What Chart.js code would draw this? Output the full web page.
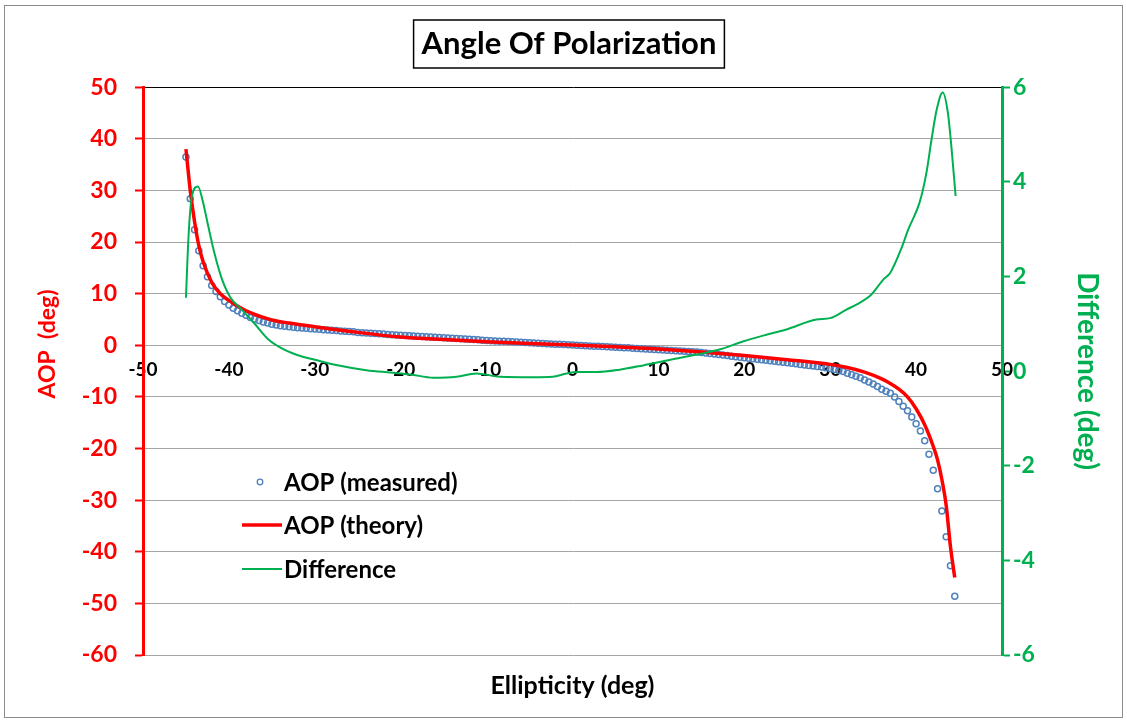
<!DOCTYPE html>
<html>
<head>
<meta charset="utf-8">
<title>Angle Of Polarization</title>
<script src="https://cdn.jsdelivr.net/npm/chart.js@4.4.1/dist/chart.umd.min.js"></script>
<style>
   html, body { margin: 0; padding: 0; background: #fff; }
   #wrap { position: absolute; left: 0; top: 0; width: 1127px; height: 722px; }
</style>
</head>
<body>
<div id="wrap"><canvas id="chart__aop" width="1127" height="722"></canvas></div>
<script>
// DATA
const measuredX = [
   -45, -44.5, -44, -43.5, -43, -42.5, -42, -41.5, -41, -40.5,
   -40, -39.5, -39, -38.5, -38, -37.5, -37, -36.5, -36, -35.5,
   -35, -34.5, -34, -33.5, -33, -32.5, -32, -31.5, -31, -30.5,
   -30, -29.5, -29, -28.5, -28, -27.5, -27, -26.5, -26, -25.5,
   -25, -24.5, -24, -23.5, -23, -22.5, -22, -21.5, -21, -20.5,
   -20, -19.5, -19, -18.5, -18, -17.5, -17, -16.5, -16, -15.5,
   -15, -14.5, -14, -13.5, -13, -12.5, -12, -11.5, -11, -10.5,
   -10, -9.5, -9, -8.5, -8, -7.5, -7, -6.5, -6, -5.5,
   -5, -4.5, -4, -3.5, -3, -2.5, -2, -1.5, -1, -0.5,
   0, 0.5, 1, 1.5, 2, 2.5, 3, 3.5, 4, 4.5,
   5, 5.5, 6, 6.5, 7, 7.5, 8, 8.5, 9, 9.5,
   10, 10.5, 11, 11.5, 12, 12.5, 13, 13.5, 14, 14.5,
   15, 15.5, 16, 16.5, 17, 17.5, 18, 18.5, 19, 19.5,
   20, 20.5, 21, 21.5, 22, 22.5, 23, 23.5, 24, 24.5,
   25, 25.5, 26, 26.5, 27, 27.5, 28, 28.5, 29, 29.5,
   30, 30.5, 31, 31.5, 32, 32.5, 33, 33.5, 34, 34.5,
   35, 35.5, 36, 36.5, 37, 37.5, 38, 38.5, 39, 39.5,
   40, 40.5, 41, 41.5, 42, 42.5, 43, 43.5, 44, 44.5
];
const measuredY = [
   36.5, 28.4, 22.4, 18.3, 15.4, 13.3, 11.6, 10.4, 9.4, 8.5,
   7.8, 7.2, 6.7, 6.2, 5.8, 5.4, 5.1, 4.8, 4.5, 4.3,
   4.1, 3.95, 3.8, 3.7, 3.6, 3.5, 3.4, 3.35, 3.3, 3.2,
   3.15, 3.1, 3.0, 2.95, 2.9, 2.85, 2.75, 2.7, 2.65, 2.6,
   2.5, 2.45, 2.4, 2.35, 2.3, 2.25, 2.2, 2.1, 2.05, 2.0,
   1.95, 1.9, 1.85, 1.8, 1.75, 1.7, 1.65, 1.6, 1.55, 1.5,
   1.45, 1.4, 1.35, 1.3, 1.25, 1.2, 1.15, 1.1, 1.05, 1.0,
   0.95, 0.9, 0.85, 0.8, 0.8, 0.75, 0.7, 0.65, 0.6, 0.55,
   0.5, 0.45, 0.4, 0.35, 0.3, 0.25, 0.2, 0.2, 0.15, 0.1,
   0.05, 0.0, -0.05, -0.1, -0.15, -0.2, -0.2, -0.25, -0.3, -0.35,
   -0.4, -0.45, -0.5, -0.5, -0.55, -0.6, -0.65, -0.7, -0.75, -0.8,
   -0.85, -0.9, -0.95, -1.0, -1.05, -1.1, -1.15, -1.2, -1.25, -1.3,
   -1.4, -1.5, -1.6, -1.7, -1.8, -1.9, -2.0, -2.1, -2.2, -2.3,
   -2.4, -2.5, -2.6, -2.7, -2.8, -2.9, -3.0, -3.1, -3.2, -3.3,
   -3.4, -3.5, -3.6, -3.7, -3.8, -3.9, -4.0, -4.1, -4.2, -4.35,
   -4.5, -4.7, -4.9, -5.1, -5.4, -5.7, -6.0, -6.3, -6.7, -7.1,
   -7.5, -8.0, -8.5, -8.9, -9.3, -10.0, -10.9, -11.8, -12.7, -13.9,
   -15.2, -16.6, -18.5, -21.1, -24.2, -27.8, -32.1, -37.1, -42.7, -48.6
];

const theoryX = [
   -45, -44.5, -44, -43.5, -43, -42, -41, -40, -39, -38, -37, -36, -35,
   -33, -30, -25, -20, -15, -10, -5, 0, 5, 10, 15, 20, 25, 30,
   32, 34, 36, 37, 38, 39, 40, 41, 42, 42.5, 43, 43.5, 44, 44.5
];
const theoryY = [
   38, 30, 24, 19.3, 16.2, 12.2, 10.0, 8.7, 7.6, 6.7, 6.0, 5.4, 4.9,
   4.3, 3.6, 2.5, 1.6, 1.1, 0.7, 0.35, 0.05, -0.3, -0.7, -1.3, -2.0, -2.8, -3.7,
   -4.3, -5.2, -6.5, -7.4, -8.5, -10.0, -12.3, -15.4, -19.6, -22.2, -26.0, -31.0, -39.0, -45.0
];

const diffX = [
   -45, -44.7, -44.3, -43.6, -43, -42.4, -41.6, -40.8, -39.8, -38.5,
   -37, -35.4, -33.5, -31.5, -30, -27.8, -24, -21.2, -18.9, -16.2,
   -13.5, -11.2, -8.4, -4.6, -2.3, -0.7, 0.5, 2.8, 5.5, 8.2,
   11.4, 14.5, 17.2, 19.9, 22.2, 24.9, 28.4, 30, 31.9, 33.1,
   34.8, 36.2, 37, 38.3, 39.1, 40.4, 41.2, 41.8, 42.4, 43.1,
   43.7, 44.1, 44.6
];
const diffY = [
   1.55, 2.85, 3.7, 3.9, 3.56, 3.06, 2.43, 1.94, 1.55, 1.3,
   1.0, 0.67, 0.45, 0.31, 0.24, 0.14, 0.02, -0.03, -0.07, -0.14,
   -0.12, -0.05, -0.12, -0.13, -0.12, -0.05, -0.02, -0.02, 0.03, 0.12,
   0.24, 0.35, 0.46, 0.63, 0.75, 0.88, 1.09, 1.12, 1.3, 1.41,
   1.62, 1.94, 2.08, 2.6, 3.0, 3.56, 4.19, 4.9, 5.53, 5.89,
   5.46, 4.76, 3.7
];

// COLOURS / FONTS
const RED = "#ff0000";
const GREEN = "#00b050";
const BLUE = "#4f81bd";
const GRID = "#a6a6a6";
const FONT = "Lato, 'Open Sans', sans-serif";

function toPoints(xs, ys) {
   return xs.map((x, i) => ({ x: x, y: ys[i] }));
}

// white page + thin grey frame
const frame = {
   id: "frame",
   beforeDraw(chart) {
      const c = chart.ctx;
      c.save();
      c.fillStyle = "#fff";
      c.fillRect(0, 0, chart.width, chart.height);
      c.strokeStyle = "#8c8c8c";
      c.lineWidth = 1;
      c.strokeRect(4.5, 5.5, chart.width - 9, chart.height - 10);
      c.restore();
   },
};

// box around the title + left axis title (sits a bit above the axis middle)
const extras = {
   id: "extras",
   afterDraw(chart) {
      const opts = chart.options.plugins.title;
      const c = chart.ctx;
      c.save();
      c.font = "bold " + opts.font.size + "px " + FONT;
      const w = c.measureText(opts.text).width;
      const cx = (chart.titleBlock.left + chart.titleBlock.right) / 2;
      c.strokeStyle = "#000";
      c.lineWidth = 1.5;
      c.strokeRect(cx - w / 2 - 8, 20, w + 16, 48);

      // AOP (deg)
      c.translate(48, 344);
      c.rotate(-Math.PI / 2);
      c.font = "bold 23px " + FONT;
      c.fillStyle = RED;
      c.textAlign = "center";
      c.textBaseline = "middle";
      c.fillText("AOP  (deg)", 0, 0);
      c.restore();
   },
};

// legend drawn inside the plot, lower left
const legendInside = {
   id: "legendInside",
   afterDraw(chart) {
      const c = chart.ctx;
      const ds = chart.data.datasets;
      const x0 = 242, x1 = 282, tx = 284;
      const rows = [482, 525, 569];
      c.save();
      c.font = "bold 24px " + FONT;
      c.fillStyle = "#000";
      c.textBaseline = "middle";
      c.textAlign = "left";
      ds.forEach((d, i) => {
         const y = rows[i];
         if (d.showLine === false) {
            c.beginPath();
            c.arc(260, y, 2.8, 0, Math.PI * 2);
            c.strokeStyle = d.pointBorderColor;
            c.lineWidth = 1.3;
            c.stroke();
         } else {
            c.beginPath();
            c.moveTo(x0, y);
            c.lineTo(x1, y);
            c.strokeStyle = d.borderColor;
            c.lineWidth = d.borderWidth;
            c.stroke();
         }
         c.fillText(d.label, tx, y + 1);
      });
      c.restore();
   },
};

const ctx = document.getElementById("chart__aop").getContext("2d");
window.chartAop = new Chart(ctx, {
   type: "scatter",
   data: {
      datasets: [
         {
            label: "AOP (measured)",
            data: toPoints(measuredX, measuredY),
            yAxisID: "y",
            showLine: false,
            pointStyle: "circle",
            pointRadius: 3,
            pointBorderWidth: 1.5,
            pointBorderColor: BLUE,
            pointBackgroundColor: "rgba(255,255,255,0)",
            order: 3,
         },
         {
            label: "AOP (theory)",
            data: toPoints(theoryX, theoryY),
            yAxisID: "y",
            showLine: true,
            borderColor: RED,
            borderWidth: 3.5,
            pointRadius: 0,
            cubicInterpolationMode: "monotone",
            order: 2,
         },
         {
            label: "Difference",
            data: toPoints(diffX, diffY),
            yAxisID: "y2",
            showLine: true,
            borderColor: GREEN,
            borderWidth: 2,
            pointRadius: 0,
            cubicInterpolationMode: "monotone",
            order: 1,
         },
      ],
   },
   options: {
      responsive: false,
      animation: false,
      layout: { padding: { left: 11, right: 0, top: 0, bottom: 0 } },
      plugins: {
         legend: { display: false },
         tooltip: { enabled: false },
         title: {
            display: true,
            text: "Angle Of Polarization",
            color: "#000",
            font: { family: FONT, size: 31, weight: "bold" },
            padding: { top: 25, bottom: 25 },
         },
         subtitle: {
            display: true,
            position: "bottom",
            fullSize: false,
            text: "Ellipticity (deg)",
            color: "#000",
            font: { family: FONT, size: 25, weight: "bold" },
            padding: { top: 16, bottom: 21 },
         },
      },
      scales: {
         x: {
            type: "linear",
            position: { y: 0 },
            min: -50,
            max: 50,
            ticks: {
               stepSize: 10,
               color: "#000",
               font: { family: FONT, size: 19, weight: "bold" },
               padding: 13,
               maxRotation: 0,
               autoSkip: false,
            },
            grid: { display: false, drawTicks: false },
            border: { display: false },
         },
         y: {
            position: "left",
            min: -60,
            max: 50,
            ticks: {
               stepSize: 10,
               color: RED,
               font: { family: FONT, size: 23, weight: "bold" },
               padding: 18,
            },
            grid: {
               color: (c) => (c.tick && c.tick.value === 50 ? "#000" : GRID),
               lineWidth: 1,
               tickColor: RED,
               tickLength: 8,
               tickWidth: 2,
            },
            border: { color: RED, width: 3 },
            afterFit: (s) => { s.width = 132; },
         },
         y2: {
            position: "right",
            min: -6,
            max: 6,
            ticks: {
               stepSize: 2,
               color: GREEN,
               font: { family: FONT, size: 23, weight: "bold" },
               padding: 3,
            },
            grid: {
               drawOnChartArea: false,
               tickColor: GREEN,
               tickLength: 8,
               tickWidth: 2,
            },
            border: { color: GREEN, width: 3 },
            title: {
               display: true,
               text: "Difference (deg)",
               color: GREEN,
               font: { family: FONT, size: 28, weight: "bold" },
               padding: { top: 23, bottom: 0 },
            },
            afterFit: (s) => { s.width = 125; },
         },
      },
   },
   plugins: [frame, extras, legendInside],
});
</script>
</body>
</html>
